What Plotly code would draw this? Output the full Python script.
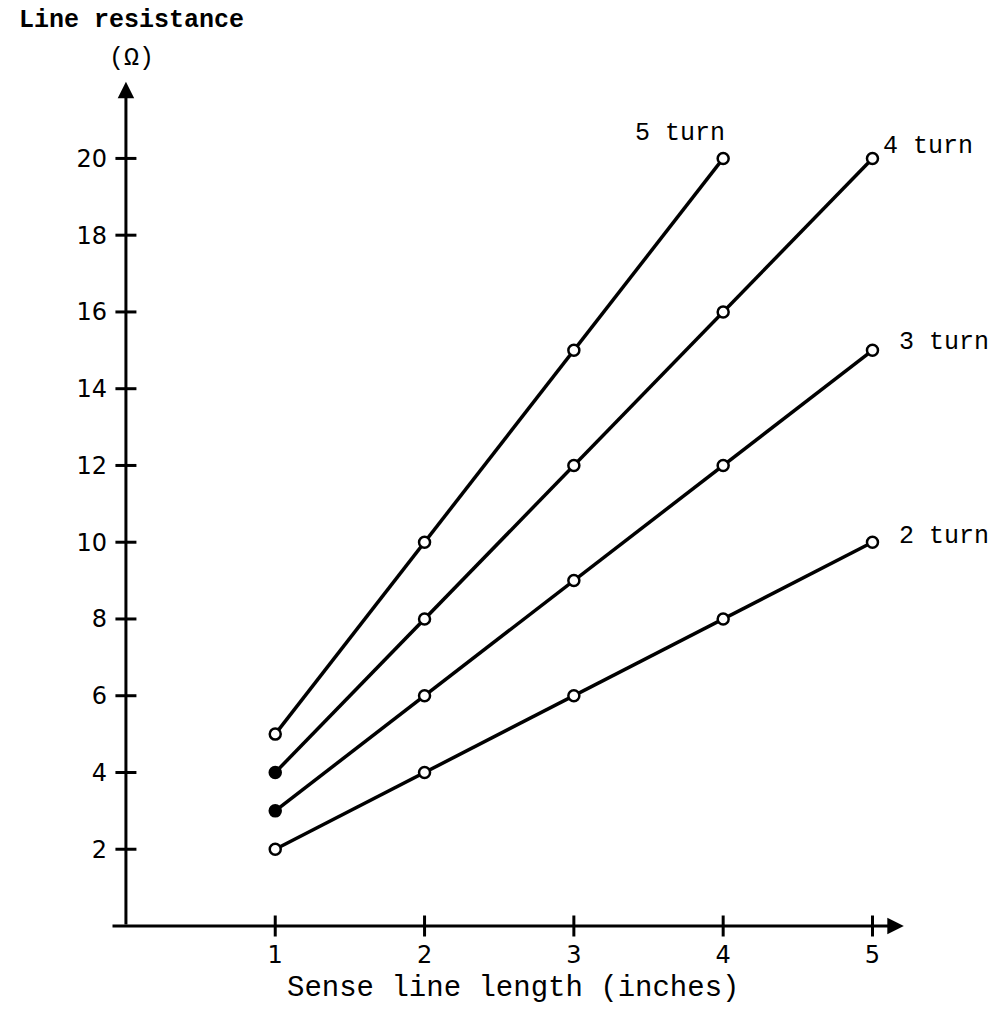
import plotly.graph_objects as go

# ---- data ----
lengths = [1, 2, 3, 4, 5]
res_2turn = [2, 4, 6, 8, 10]
res_3turn = [3, 6, 9, 12, 15]
res_4turn = [4, 8, 12, 16, 20]
res_5turn = [5, 10, 15, 20]
x_ticks = [1, 2, 3, 4, 5]
y_ticks = [2, 4, 6, 8, 10, 12, 14, 16, 18, 20]
series_labels = ["2 turn", "3 turn", "4 turn", "5 turn"]

MONO = "Liberation Mono"
fig = go.Figure()

series = [
    (res_2turn, lengths, ["white"] * 5),
    (res_3turn, lengths, ["black"] + ["white"] * 4),
    (res_4turn, lengths, ["black"] + ["white"] * 4),
    (res_5turn, lengths[:4], ["white"] * 4),
]
for (ys, xs, fills), name in zip(series, series_labels):
    fig.add_trace(go.Scatter(
        x=xs, y=ys, mode="lines+markers", name=name,
        line=dict(color="black", width=3.5),
        marker=dict(symbol="circle", size=11, color=fills,
                    line=dict(color="black", width=2.5)),
        cliponaxis=False, showlegend=False,
    ))

# crossing tick marks
fig.add_trace(go.Scatter(
    x=x_ticks, y=[0] * len(x_ticks), mode="markers",
    marker=dict(symbol="line-ns", size=15, line=dict(color="black", width=3)),
    cliponaxis=False, showlegend=False, hoverinfo="skip"))
fig.add_trace(go.Scatter(
    x=[0] * len(y_ticks), y=y_ticks, mode="markers",
    marker=dict(symbol="line-ew", size=15, line=dict(color="black", width=3)),
    cliponaxis=False, showlegend=False, hoverinfo="skip"))

# axes with arrows
fig.add_annotation(x=0, y=22, ax=0, ay=0, xref="x", yref="y", axref="x", ayref="y",
                   text="", showarrow=True, arrowhead=2, arrowsize=1.1,
                   arrowwidth=3, arrowcolor="black")
fig.add_annotation(x=5.21, y=0, ax=-0.1, ay=0, xref="x", yref="y", axref="x", ayref="y",
                   text="", showarrow=True, arrowhead=2, arrowsize=1.1,
                   arrowwidth=3, arrowcolor="black")

# series labels
label_pos = {
    "5 turn": (3.71, 20.65),
    "4 turn": (5.37, 20.3),
    "3 turn": (5.48, 15.2),
    "2 turn": (5.48, 10.15),
}
for name in series_labels:
    lx, ly = label_pos[name]
    fig.add_annotation(x=lx, y=ly, xref="x", yref="y", text=name, showarrow=False,
                       font=dict(family=MONO, size=25, color="black"),
                       xanchor="center", yanchor="middle")

# axis titles
fig.add_annotation(x=0.035, y=1, xref="x", yref="paper", yshift=54,
                   text="<b>Line resistance</b>", showarrow=False,
                   font=dict(family=MONO, size=25, color="black"),
                   xanchor="center", yanchor="middle")
fig.add_annotation(x=0.035, y=1, xref="x", yref="paper", yshift=16,
                   text="(Ω)", showarrow=False,
                   font=dict(family=MONO, size=25, color="black"),
                   xanchor="center", yanchor="middle")
fig.add_annotation(x=2.59, y=0, xref="x", yref="paper", yshift=-62,
                   text="Sense line length (inches)", showarrow=False,
                   font=dict(family=MONO, size=29, color="black"),
                   xanchor="center", yanchor="middle")

fig.update_xaxes(range=[-0.1, 5.7], tickvals=x_ticks, ticktext=[str(v) for v in x_ticks],
                 showgrid=False, zeroline=False, showline=False, ticks="",
                 ticklabelstandoff=12,
                 tickfont=dict(family="DejaVu Sans", size=24, color="black"))
fig.update_yaxes(range=[0, 22.2], tickvals=y_ticks, ticktext=[str(v) for v in y_ticks],
                 showgrid=False, zeroline=False, showline=False, ticks="",
                 ticklabelstandoff=3,
                 tickfont=dict(family="DejaVu Sans", size=24, color="black"))

fig.update_layout(width=999, height=1010, margin=dict(l=111, r=22, t=74, b=84),
                  plot_bgcolor="white", paper_bgcolor="white")

fig.write_html("out.html")
